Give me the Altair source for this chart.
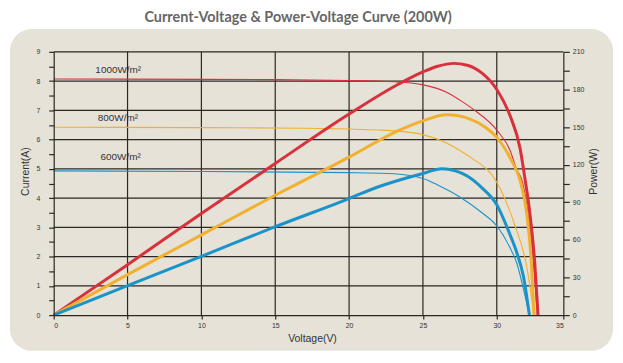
import altair as alt
import pandas as pd

# ---------------- data ----------------
series = ["1000", "800", "600"]
series_colors = ["#d8313c", "#f1b12f", "#1a93c9"]

# Current-Voltage curves
iv_1000_v = [0, 10, 15, 20, 21.9, 23.3, 24.95, 26.6, 27.5, 28.4, 30.05, 31.0, 31.5, 31.9, 32.4, 32.75, 33.05]
iv_1000_i = [8.07, 8.06, 8.05, 8.02, 8.0, 7.97, 7.88, 7.62, 7.35, 7.04, 6.3, 5.63, 4.98, 4.6, 3.3, 1.8, 0.0]

iv_800_v = [0, 10, 17, 20, 21.9, 23.3, 25.0, 26.6, 27.5, 28.2, 30.05, 31.35, 32.25, 32.8]
iv_800_i = [6.42, 6.41, 6.39, 6.36, 6.33, 6.29, 6.17, 5.88, 5.63, 5.40, 4.5, 3.08, 1.66, 0.0]

iv_600_v = [0, 10, 20, 22.6, 24.0, 25.0, 26.0, 27.5, 29.0, 30.0, 31.0, 31.5, 32.0, 32.45]
iv_600_i = [4.93, 4.91, 4.87, 4.84, 4.78, 4.67, 4.45, 4.04, 3.5, 3.05, 2.3, 1.78, 0.9, 0.0]

# Power-Voltage curves
pv_1000_v = [0, 5, 10, 15, 20, 23.3, 25, 26, 27.1, 28, 29, 30, 31, 31.75, 32.1, 32.5, 32.85, 33.1]
pv_1000_p = [0, 40.2, 81, 121, 160.4, 184, 194, 198.5, 200.8, 199.3, 193, 180, 159, 133, 110, 80, 42, 0]

pv_800_v = [0, 5, 10, 15, 20, 23.3, 25, 26.6, 28.2, 29.2, 30, 31.1, 31.75, 32.25, 32.6, 32.8]
pv_800_p = [0, 32.3, 64, 95.6, 126, 147, 155, 159.8, 156.4, 150, 141.8, 123.4, 107.5, 81, 41.5, 0]

pv_600_v = [0, 5, 10, 15, 20, 21.9, 25, 26.3, 27.2, 28, 29, 30, 31, 31.5, 32, 32.45]
pv_600_p = [0, 23.5, 46.8, 70.5, 93, 102, 113, 116.8, 115, 111, 101.5, 88, 64, 50, 31, 0]

# irradiance annotations
label_text = ["1000W/m²", "800W/m²", "600W/m²"]
label_v = [4.37, 4.35, 4.53]
label_i = [8.37, 6.73, 5.42]

title_text = ["Current-Voltage & Power-Voltage Curve (200W)"]

# axes / grid
x_ticks = [0, 5, 10, 15, 20, 25, 30, 35]
x_grid = [5, 10, 15, 20, 25, 30]
y_grid = [1, 2, 3, 4, 5, 6, 7, 8, 9]
y_ticks = [i * 0.5 for i in range(19)]
p_ticks = list(range(0, 211, 15))

# ---------------- tables ----------------
iv_df = pd.concat([
    pd.DataFrame({"V": iv_1000_v, "I": iv_1000_i, "s": "1000"}),
    pd.DataFrame({"V": iv_800_v, "I": iv_800_i, "s": "800"}),
    pd.DataFrame({"V": iv_600_v, "I": iv_600_i, "s": "600"}),
])
pv_df = pd.concat([
    pd.DataFrame({"V": pv_1000_v, "P": pv_1000_p, "s": "1000"}),
    pd.DataFrame({"V": pv_800_v, "P": pv_800_p, "s": "800"}),
    pd.DataFrame({"V": pv_600_v, "P": pv_600_p, "s": "600"}),
])
lab_df = pd.DataFrame({"V": label_v, "I": label_i, "t": label_text})

DARK = "#2b2722"
PANEL = "#e6e2d8"
FONT = "Liberation Sans"
W, H = 513, 265

xscale = alt.Scale(domain=[0, 30, 35], range=[0, 446, W], nice=False)
iscale = alt.Scale(domain=[0, 9], nice=False)
pscale = alt.Scale(domain=[0, 210], nice=False)
cscale = alt.Scale(domain=series, range=series_colors)

common = dict(grid=False, labelFontSize=7, labelFont=FONT, labelColor="#333333",
              domainColor=DARK, tickColor=DARK, domainWidth=1.2, tickWidth=1.2,
              titleFont=FONT, titleFontSize=10.5, titleFontWeight="normal",
              titleColor="#333333", titleBaseline="middle", zindex=1)

x_axis = alt.Axis(values=x_ticks, title="Voltage(V)", tickSize=4, labelPadding=2,
                  titleX=260, titleY=24, **common)
i_axis = alt.Axis(values=y_ticks,
                  labelExpr="datum.value % 1 == 0 ? format(datum.value, 'd') : ''",
                  orient="left", title="Current(A)", tickSize=5, labelPadding=9,
                  titleAngle=270, titleX=-28, titleY=120, titleAlign="center", **common)
p_axis = alt.Axis(values=p_ticks,
                  labelExpr="datum.value % 30 == 0 ? format(datum.value, 'd') : ''",
                  orient="right", title="Power(W)", tickSize=6, labelPadding=3,
                  titleAngle=270, titleX=30, titleY=120, titleAlign="center", **common)

X = alt.X("V:Q", scale=xscale, axis=x_axis)
YI = alt.Y("I:Q", scale=iscale, axis=i_axis)
YP = alt.Y("P:Q", scale=pscale, axis=p_axis)

bg = alt.Chart(pd.DataFrame({"a": [0]})).mark_rect(fill=PANEL, cornerRadius=22).encode(
    x=alt.value(-44), x2=alt.value(563), y=alt.value(-23), y2=alt.value(301)
)
title = alt.Chart(pd.DataFrame({"t": title_text})).mark_text(
    font="Lato, 'Open Sans', sans-serif", fontSize=14.5, fontWeight="bold", color="#666666",
    align="center", baseline="alphabetic",
).encode(x=alt.value(246), y=alt.value(-30), text="t:N")

vgrid = alt.Chart(pd.DataFrame({"V": x_grid})).mark_rule(color=DARK, strokeWidth=1.2).encode(x=X)
hgrid = alt.Chart(pd.DataFrame({"I": y_grid})).mark_rule(color=DARK, strokeWidth=1.2).encode(y=YI)
iv_lines = alt.Chart(iv_df).mark_line(strokeWidth=1.1, interpolate="monotone").encode(
    x=X, y=YI,
    color=alt.Color("s:N", scale=cscale, legend=None),
    detail="s:N",
)
labels = alt.Chart(lab_df).mark_text(font=FONT, fontSize=10, color="#333333",
                                      align="center", baseline="middle").encode(
    x=X, y=YI, text="t:N",
)
left = alt.layer(vgrid, hgrid, iv_lines, labels)

pv_lines = alt.Chart(pv_df).mark_line(strokeWidth=3, interpolate="monotone").encode(
    x=X, y=YP,
    color=alt.Color("s:N", scale=cscale, legend=None),
    detail="s:N",
)

chart = alt.layer(bg, title, left, pv_lines).resolve_scale(y="independent").properties(
    width=W, height=H,
    autosize=alt.AutoSizeParams(type="none"),
    padding={"left": 46, "top": 43, "right": 52, "bottom": 36},
    background="white",
).configure_view(stroke=None)

chart.save("out.html", embed_options={"renderer": "svg", "actions": False})
